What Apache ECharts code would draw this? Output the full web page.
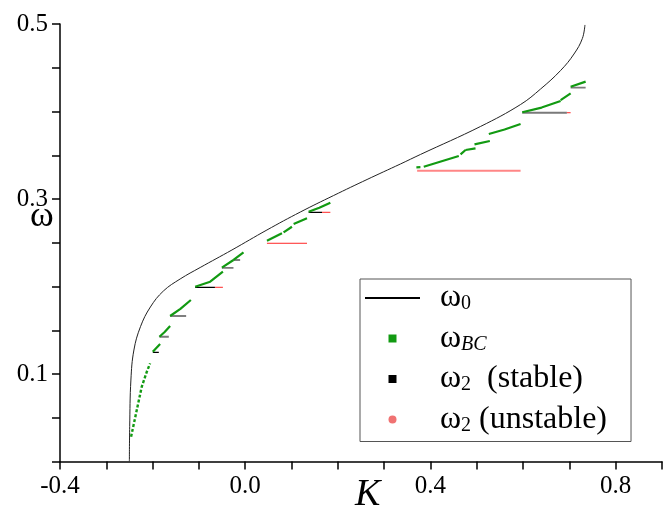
<!DOCTYPE html>
<html>
<head>
<meta charset="utf-8">
<script src="https://cdn.jsdelivr.net/npm/echarts@6/dist/echarts.min.js"></script>
<style>
  html, body { margin: 0; padding: 0; background: #fff; }
  #chart { width: 664px; height: 515px; }
</style>
</head>
<body>
<div id="chart"></div>
<script>
// omega_0 curve
const k0 = [-0.2502, -0.2495, -0.2469, -0.2404, -0.2262, -0.2048, -0.1766, -0.1405, -0.0973, -0.0288,
  0.0469, 0.1189, 0.1909, 0.2631, 0.3351, 0.3784, 0.5081, 0.5946, 0.6378, 0.6811, 0.7099, 0.728, 0.7336];
const w0 = [0, 0.0398, 0.0931, 0.1274, 0.1541, 0.1766, 0.1949, 0.2086, 0.2217, 0.2417,
  0.2646, 0.2851, 0.304, 0.3223, 0.34, 0.3509, 0.3829, 0.408, 0.4257, 0.4469, 0.4657, 0.4834, 0.4989];

// omega_BC tongues, each one a short arc
const bcK = [
  [-0.1996, -0.1838], [-0.1853, -0.174, -0.1622], [-0.1622, -0.14, -0.1174],
  [-0.1081, -0.0757, -0.0482], [-0.0504, -0.0254], [-0.0253, -0.0037],
  [0.0469, 0.0793], [0.0828, 0.1009], [0.1045, 0.1334], [0.1369, 0.16, 0.1838],
  [0.3696, 0.3783], [0.3855, 0.4612], [0.465, 0.4757], [0.4757, 0.4973], [0.4951, 0.5282],
  [0.526, 0.56, 0.5946], [0.5982, 0.64, 0.6811], [0.6811, 0.7027], [0.7027, 0.7351]
];
const bcW = [
  [0.1255, 0.1343], [0.1426, 0.148, 0.1549], [0.1663, 0.1745, 0.1846],
  [0.1998, 0.2055, 0.2169], [0.2215, 0.2303], [0.2303, 0.2391],
  [0.2523, 0.2608], [0.2619, 0.2683], [0.2714, 0.2779], [0.2855, 0.29, 0.2958],
  [0.3362, 0.3364], [0.3369, 0.3491], [0.351, 0.356], [0.356, 0.3579], [0.3625, 0.3663],
  [0.3743, 0.3794, 0.3857], [0.3991, 0.4045, 0.412], [0.4131, 0.4208], [0.4283, 0.4341]
];
// the lower, almost continuous run of small tongues
const bcLowK = [-0.2465, -0.2342, -0.2234, -0.2125, -0.2054];
const bcLowW = [0.0283, 0.0589, 0.0855, 0.1026, 0.1122];

// omega_2 stable plateaus
const stableK = [[-0.1996, -0.1866], [-0.1622, -0.1276], [-0.1081, -0.0654], [-0.0253, -0.011], [0.1369, 0.1658]];
const stableW = [0.1248, 0.1663, 0.1991, 0.2303, 0.2848];
const stableK2 = [[-0.1853, -0.165], [-0.0504, -0.0254], [0.5982, 0.6946], [0.7027, 0.7351]];
const stableW2 = [0.1426, 0.2213, 0.3986, 0.4272];

// omega_2 unstable plateaus
const unstableK = [[-0.0654, -0.0482], [0.0469, 0.1334], [0.1658, 0.1838], [0.6946, 0.7027]];
const unstableW = [0.1991, 0.2494, 0.2848, 0.3986];
const unstableK2 = [[0.3712, 0.5946]];
const unstableW2 = [0.3323];

const xLabels = [-4, 0, 4, 8];   // tenths
const yLabels = [10, 30, 50];    // hundredths

const FONT = 'Liberation Serif';
const GREEN = '#129a12';
const SQUARE = 'path://M0,0H10V10H0Z';

function arcs(ks, ws) {
  const out = [];
  ks.forEach((seg, i) => {
    seg.forEach((k, j) => out.push([k, ws[i][j]]));
    out.push(['-', '-']);
  });
  return out;
}
function flats(ks, ws) {
  const out = [];
  ks.forEach((seg, i) => {
    out.push([seg[0], ws[i]], [seg[1], ws[i]], ['-', '-']);
  });
  return out;
}

const chart = echarts.init(document.getElementById('chart'));

const baseLine = { type: 'line', showSymbol: false, symbol: 'none', connectNulls: false, animation: false };

chart.setOption({
  animation: false,
  grid: { left: 60, right: 2, top: 24, bottom: 53.5, outerBoundsMode: 'none' },
  graphic: [
    { type: 'text', left: 30, top: 199, style: { text: 'ω', font: '36px "Liberation Serif"', fill: '#000' } },
    { type: 'text', left: 355, top: 476, style: { text: 'K', font: 'italic 38px "Liberation Serif"', fill: '#000' } }
  ],
  xAxis: {
    type: 'value', min: -0.4, max: 0.9, interval: 0.1,
    axisLine: { onZero: false, lineStyle: { color: '#000', width: 1.5 } },
    axisTick: { length: 8, lineStyle: { color: '#000', width: 1.5 } },
    splitLine: { show: false },
    axisLabel: {
      margin: 12, fontFamily: FONT, fontSize: 25, color: '#000',
      formatter: v => xLabels.includes(Math.round(v * 10)) ? (Math.round(v * 10) / 10).toFixed(1) : ''
    }
  },
  yAxis: {
    type: 'value', min: 0, max: 0.5, interval: 0.05,
    axisLine: { onZero: false, lineStyle: { color: '#000', width: 1.5 } },
    axisTick: { length: 8, lineStyle: { color: '#000', width: 1.5 } },
    splitLine: { show: false },
    axisLabel: {
      margin: 12, fontFamily: FONT, fontSize: 25, color: '#000',
      formatter: v => yLabels.includes(Math.round(v * 100)) ? v.toFixed(1) : ''
    }
  },
  legend: {
    orient: 'vertical', left: 360, top: 279,
    padding: [3, 24, 6, 5], itemGap: 8.5,
    itemWidth: 55, itemHeight: 8,
    borderColor: '#555', borderWidth: 1, backgroundColor: '#fff',
    itemStyle: { borderWidth: 0 },
    data: [
      { name: 'w0', icon: 'path://M0,0H55V2H0Z', itemStyle: { color: '#000' } },
      { name: 'wBC', icon: SQUARE },
      { name: 'w2s', icon: SQUARE },
      { name: 'w2u', icon: 'circle' }
    ],
    formatter: n => ({
      w0: '{m|ω}{s|0}',
      wBC: '{m|ω}{si|BC}',
      w2s: '{m|ω}{s|2}{t|  (stable)}',
      w2u: '{m|ω}{s|2}{t| (unstable)}'
    })[n],
    textStyle: {
      fontFamily: FONT, fontSize: 32, color: '#000',
      rich: {
        m: { fontFamily: FONT, fontSize: 32, lineHeight: 32, padding: [0, 0, 0, 15] },
        t: { fontFamily: FONT, fontSize: 32, lineHeight: 32 },
        s: { fontFamily: FONT, fontSize: 20, lineHeight: 14, verticalAlign: 'bottom' },
        si: { fontFamily: FONT, fontSize: 20, fontStyle: 'italic', lineHeight: 14, verticalAlign: 'bottom' }
      }
    }
  },
  series: [
    Object.assign({}, baseLine, {
      name: 'w0', data: k0.map((k, i) => [k, w0[i]]), smooth: 0.4,
      itemStyle: { color: '#000' }, lineStyle: { color: '#222', width: 1 }, z: 2
    }),
    Object.assign({}, baseLine, {
      name: 'wBC', data: arcs(bcK, bcW),
      itemStyle: { color: GREEN }, lineStyle: { color: GREEN, width: 2.2 }, z: 4
    }),
    Object.assign({}, baseLine, {
      name: 'wBC', data: bcLowK.map((k, i) => [k, bcLowW[i]]),
      itemStyle: { color: GREEN }, lineStyle: { color: GREEN, width: 2.4, type: [3, 2] }, z: 4
    }),
    Object.assign({}, baseLine, {
      name: 'w2s', data: flats(stableK, stableW),
      itemStyle: { color: '#000' }, lineStyle: { color: '#000', width: 1.2 }, z: 3
    }),
    Object.assign({}, baseLine, {
      name: 'w2s', data: flats(stableK2, stableW2),
      itemStyle: { color: '#000' }, lineStyle: { color: '#7a7a7a', width: 1.8 }, z: 3
    }),
    Object.assign({}, baseLine, {
      name: 'w2u', data: flats(unstableK, unstableW),
      itemStyle: { color: '#f07272' }, lineStyle: { color: '#ff2626', width: 1 }, z: 3
    }),
    Object.assign({}, baseLine, {
      name: 'w2u', data: flats(unstableK2, unstableW2),
      itemStyle: { color: '#f07272' }, lineStyle: { color: '#ff8686', width: 2 }, z: 3
    })
  ]
});
</script>
</body>
</html>
